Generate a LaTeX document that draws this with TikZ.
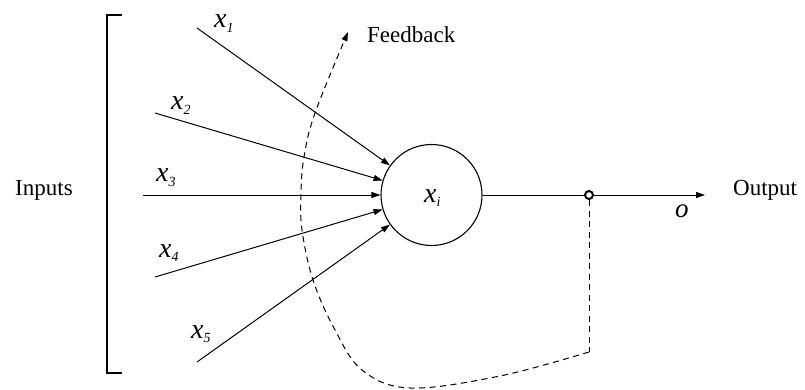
\documentclass[tikz,border=0pt]{standalone}
\usepackage{fontspec}
\setmainfont{Liberation Serif}
\usetikzlibrary{arrows.meta}
\newcommand{\vx}[1]{{\fontsize{28}{30}\selectfont\textit{x}}\raisebox{-0.45ex}{\fontsize{14}{14}\selectfont\textit{#1}}}
\tikzset{
  conn/.style={line width=1pt, -{Triangle[length=9pt,width=6pt]}},
  fb/.style={line width=1pt, dash pattern=on 6pt off 4.5pt},
  lbl/.style={anchor=base west, inner sep=0pt, font=\fontsize{23}{28}\selectfont},
  neuron/.style={circle, draw, line width=1.1pt, minimum size=101pt, inner sep=0pt},
  tap/.style={circle, draw, line width=2pt, fill=white, minimum size=8pt, inner sep=0pt},
}
\begin{document}
\begin{tikzpicture}[x=1pt, y=-1pt]
\useasboundingbox (0,0) rectangle (805,390);
% bracket
\draw[line width=1.1pt] (122,15) -- (107,15) -- (107,373) -- (122,373);
% neuron
\node[neuron] (n) at (431.5,195) {};
% input starts
\coordinate (s1) at (197,28);
\coordinate (s2) at (155,113);
\coordinate (s3) at (143,195);
\coordinate (s4) at (155,277);
\coordinate (s5) at (197,362);
\foreach \i in {1,...,5} \draw[conn] (s\i) -- (n);
% output
\node[tap] (dot) at (589,195) {};
\coordinate (oend) at (705,195);
\draw[line width=1pt] (n) -- (dot);
\draw[conn] (dot) -- (oend);
% feedback
\coordinate (fcorner) at (589,352);
\draw[fb] (dot.south) -- (fcorner);
\draw[fb, -{Triangle[length=9pt,width=6pt]}] plot[smooth, tension=0.6] coordinates {(589,352) (500,376) (410,388) (362,370) (334,328) (313,280) (302,230) (301,193) (304,157) (315,113) (348,32)};
% labels
\node[lbl] (l1) at (214,28) {\vx{1}};
\node[lbl] (l2) at (171,110) {\vx{2}};
\node[lbl] (l3) at (156,182) {\vx{3}};
\node[lbl] (l4) at (159,257) {\vx{4}};
\node[lbl] (l5) at (191,338) {\vx{5}};
\node[lbl] (li) at (424,202) {\vx{i}};
\node[lbl] (lo) at (675,217) {{\fontsize{27}{30}\selectfont\textit{o}}};
\node[lbl] (inp) at (15,196) {Inputs};
\node[lbl] (out) at (733,196) {Output};
\node[lbl] (fbl) at (367,43) {Feedback};
\end{tikzpicture}
\end{document}
